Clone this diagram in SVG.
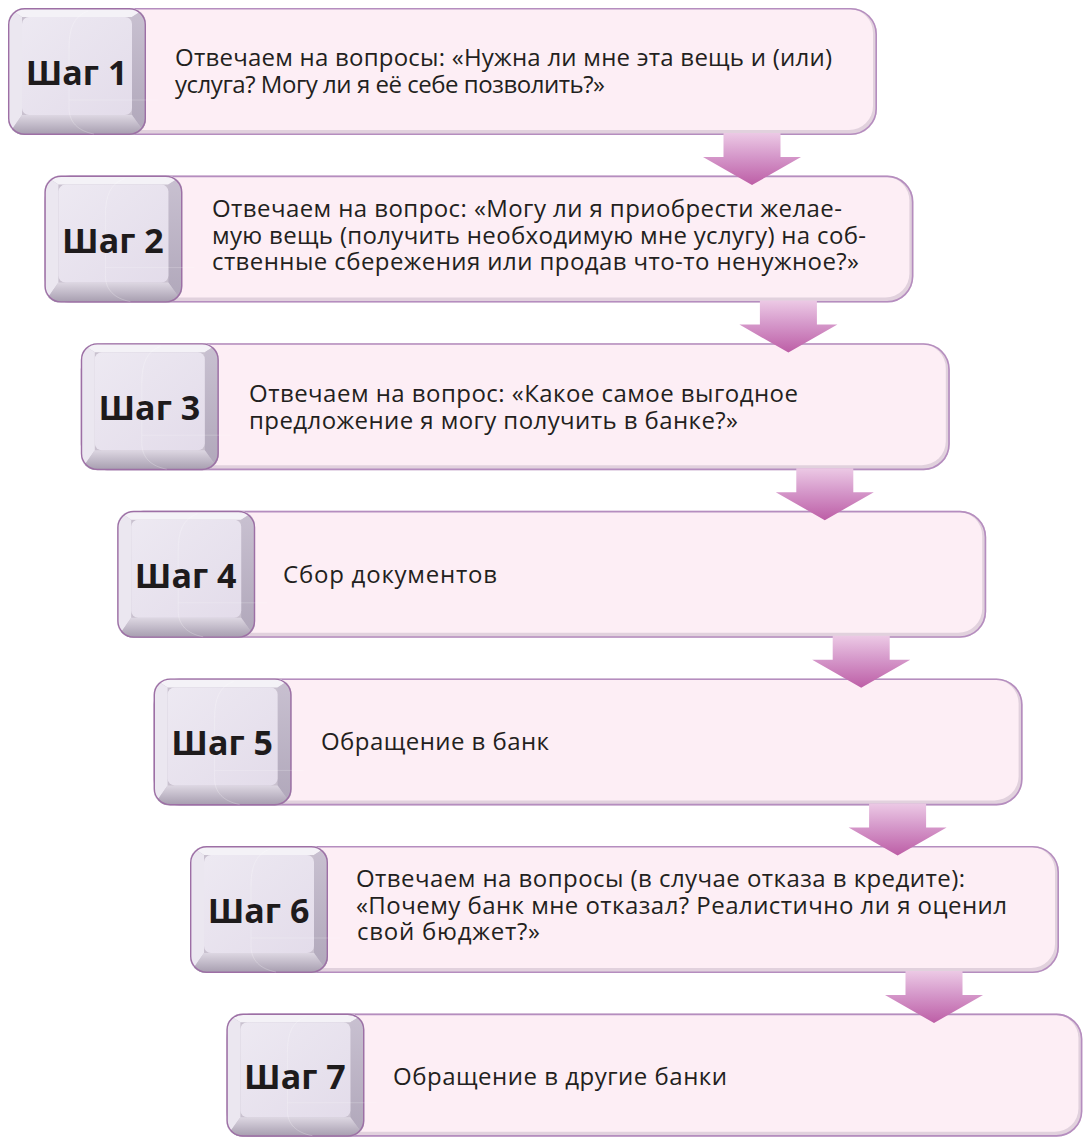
<svg xmlns="http://www.w3.org/2000/svg" xmlns:xlink="http://www.w3.org/1999/xlink" width="1083" height="1138" viewBox="0 0 1083 1138">
<defs>
  <style>
    .lbl { font-family: "Open Sans", "Noto Sans", "DejaVu Sans", sans-serif; font-weight: 700; font-size: 34px; fill: #1e1b1c; text-anchor: middle; }
    .txt { font-family: "Open Sans", "Noto Sans", "DejaVu Sans", sans-serif; font-size: 24px; fill: #231f20; }
  </style>
  <linearGradient id="ag" x1="0" y1="0" x2="0" y2="1">
    <stop offset="0" stop-color="#ecc9e5"/>
    <stop offset="0.45" stop-color="#d598ca"/>
    <stop offset="1" stop-color="#bd5ea6"/>
  </linearGradient>
  <linearGradient id="kbot" x1="0" y1="0" x2="0" y2="1">
    <stop offset="0" stop-color="#ddd7e2"/>
    <stop offset="1" stop-color="#a59cae"/>
  </linearGradient>
  <linearGradient id="kright" x1="0" y1="0" x2="0" y2="1">
    <stop offset="0" stop-color="#c9c1d1"/>
    <stop offset="1" stop-color="#b0a7ba"/>
  </linearGradient>
  <linearGradient id="kface" x1="0" y1="0" x2="1" y2="1">
    <stop offset="0" stop-color="#ede9f2"/>
    <stop offset="1" stop-color="#e3dcea"/>
  </linearGradient>
  <clipPath id="kc">
    <rect x="0" y="0" width="138" height="127" rx="16"/>
  </clipPath>
  <g id="box">
    <rect x="0" y="0" width="869" height="127" rx="26" fill="#e1d1dd"/>
    <rect x="1" y="1" width="864" height="121" rx="24" fill="#fdeef5"/>
    <rect x="0.8" y="0.8" width="867.4" height="125.4" rx="25.5" fill="none" stroke="#b58dbf" stroke-width="1.6"/>
  </g>
  <g id="key">
    <g clip-path="url(#kc)">
      <rect x="0" y="0" width="138" height="127" fill="#c9c1cf"/>
      <polygon points="0,0 138,0 124,9 14,9" fill="#f4f2f7"/>
      <polygon points="0,0 14,9 14,107 0,127" fill="#ebe7f0"/>
      <polygon points="138,0 124,9 124,107 138,127" fill="url(#kright)"/>
      <polygon points="0,127 14,107 124,107 138,127" fill="url(#kbot)"/>
    </g>
    <rect x="14" y="9" width="110" height="98" rx="7" fill="url(#kface)"/>
    <rect x="0.7" y="0.7" width="136.6" height="125.6" rx="16" fill="none" stroke="#9d6fa5" stroke-width="1.4"/>
    <path d="M 80 3 C 66 8 61 20 61 40 L 61 100 C 61 114 70 123 86 126" fill="none" stroke="#ffffff" stroke-opacity="0.3" stroke-width="0.8"/>
    <path d="M 61 92 L 150 92" fill="none" stroke="#ffffff" stroke-opacity="0.25" stroke-width="0.8"/>
  </g>
  <path id="arrow" d="M -28.5 0 L 28.5 0 L 28.5 24 L 49 24 L 0 52 L -49 24 L -28.5 24 Z" fill="url(#ag)"/>
</defs>

<g id="step1">
  <use xlink:href="#box" href="#box" transform="translate(8,8)"/>
  <use xlink:href="#key" href="#key" transform="translate(8,8)"/>
  <text class="lbl" x="76.5" y="85">Шаг 1</text>
  <text class="txt"><tspan x="175" y="66" textLength="657" lengthAdjust="spacing">Отвечаем на вопросы: «Нужна ли мне эта вещь и (или)</tspan><tspan x="175" y="93" textLength="430" lengthAdjust="spacing">услуга? Могу ли я её себе позволить?»</tspan></text>
</g>

<g id="step2">
  <use xlink:href="#box" href="#box" transform="translate(44.4,175.6)"/>
  <use xlink:href="#key" href="#key" transform="translate(44.4,175.6)"/>
  <text class="lbl" x="112.9" y="252.6">Шаг 2</text>
  <text class="txt"><tspan x="212" y="217" textLength="630" lengthAdjust="spacing">Отвечаем на вопрос: «Могу ли я приобрести желае-</tspan><tspan x="212" y="243.5" textLength="654" lengthAdjust="spacing">мую вещь (получить необходимую мне услугу) на соб-</tspan><tspan x="212" y="270" textLength="647" lengthAdjust="spacing">ственные сбережения или продав что-то ненужное?»</tspan></text>
</g>

<g id="step3">
  <use xlink:href="#box" href="#box" transform="translate(80.8,343.2)"/>
  <use xlink:href="#key" href="#key" transform="translate(80.8,343.2)"/>
  <text class="lbl" x="149.3" y="420.2">Шаг 3</text>
  <text class="txt"><tspan x="249" y="402" textLength="549" lengthAdjust="spacing">Отвечаем на вопрос: «Какое самое выгодное</tspan><tspan x="249" y="429" textLength="489" lengthAdjust="spacing">предложение я могу получить в банке?»</tspan></text>
</g>

<g id="step4">
  <use xlink:href="#box" href="#box" transform="translate(117.2,510.8)"/>
  <use xlink:href="#key" href="#key" transform="translate(117.2,510.8)"/>
  <text class="lbl" x="185.7" y="587.8">Шаг 4</text>
  <text class="txt" x="283" y="583" textLength="214" lengthAdjust="spacing">Сбор документов</text>
</g>

<g id="step5">
  <use xlink:href="#box" href="#box" transform="translate(153.6,678.4)"/>
  <use xlink:href="#key" href="#key" transform="translate(153.6,678.4)"/>
  <text class="lbl" x="222.1" y="755.4">Шаг 5</text>
  <text class="txt" x="321" y="750" textLength="228" lengthAdjust="spacing">Обращение в банк</text>
</g>

<g id="step6">
  <use xlink:href="#box" href="#box" transform="translate(190,846)"/>
  <use xlink:href="#key" href="#key" transform="translate(190,846)"/>
  <text class="lbl" x="258.5" y="923">Шаг 6</text>
  <text class="txt"><tspan x="356" y="887" textLength="609" lengthAdjust="spacing">Отвечаем на вопросы (в случае отказа в кредите):</tspan><tspan x="356" y="913.5" textLength="651" lengthAdjust="spacing">«Почему банк мне отказал? Реалистично ли я оценил</tspan><tspan x="357" y="940" textLength="183" lengthAdjust="spacing">свой бюджет?»</tspan></text>
</g>

<g id="step7">
  <use xlink:href="#box" href="#box" transform="translate(226.4,1013.6) scale(0.985,0.969)"/>
  <use xlink:href="#key" href="#key" transform="translate(226.4,1013.6) scale(1,0.969)"/>
  <text class="lbl" x="294.9" y="1089">Шаг 7</text>
  <text class="txt" x="393" y="1085" textLength="334" lengthAdjust="spacing">Обращение в другие банки</text>
</g>

<g id="connectors">
  <use xlink:href="#arrow" href="#arrow" transform="translate(752,133)"/>
  <use xlink:href="#arrow" href="#arrow" transform="translate(788.4,300.6)"/>
  <use xlink:href="#arrow" href="#arrow" transform="translate(824.8,468.2)"/>
  <use xlink:href="#arrow" href="#arrow" transform="translate(861.2,635.8)"/>
  <use xlink:href="#arrow" href="#arrow" transform="translate(897.6,803.4)"/>
  <use xlink:href="#arrow" href="#arrow" transform="translate(934,971)"/>
</g>
</svg>
